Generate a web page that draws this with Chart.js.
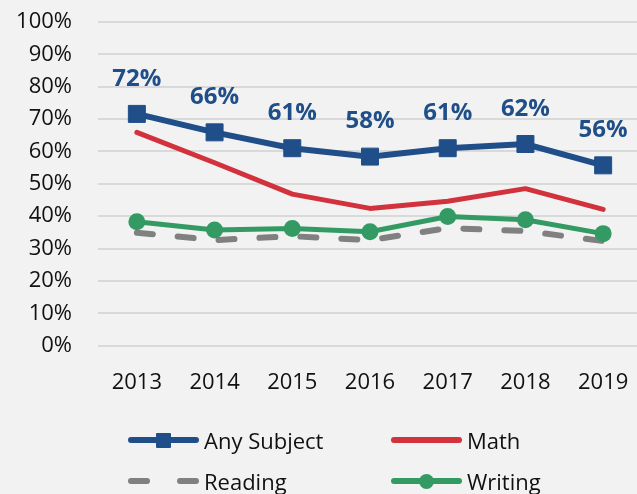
<!DOCTYPE html>
<html>
<head>
<meta charset="utf-8">
<script src="https://cdn.jsdelivr.net/npm/chart.js@4.4.1/dist/chart.umd.min.js"></script>
<style>
  html, body { margin: 0; padding: 0; background: #f2f2f2; overflow: hidden; }
  #wrap { position: relative; width: 642px; height: 494px; }
  #legend { position: absolute; left: 0; top: 0; width: 642px; height: 494px; pointer-events: none;
            font-family: "Open Sans", sans-serif; font-size: 22px; color: #111; }
  .item { position: absolute; height: 26px; line-height: 26px; white-space: nowrap; }
  .icon { position: absolute; left: 0; top: 0; width: 71px; height: 26px; }
  .seg { position: absolute; top: 10px; height: 6px; border-radius: 3px; }
  .mark { position: absolute; }
  .txt { position: absolute; left: 76px; top: 0; }
</style>
</head>
<body>
<div id="wrap">
  <canvas id="c"></canvas>
  <div id="legend"></div>
</div>
<script>
const categories = ['2013', '2014', '2015', '2016', '2017', '2018', '2019'];
const anySubject = [71.6, 65.9, 61.0, 58.4, 61.0, 62.3, 55.7];
const math       = [65.9, 56.5, 46.8, 42.4, 44.6, 48.5, 42.1];
const reading    = [34.9, 32.6, 33.8, 32.6, 36.3, 35.4, 32.3];
const writing    = [38.3, 35.7, 36.2, 35.2, 39.9, 38.9, 34.6];
const anyLabels  = ['72%', '66%', '61%', '58%', '61%', '62%', '56%'];
const yTicks     = [0, 10, 20, 30, 40, 50, 60, 70, 80, 90, 100];
const seriesNames = ['Any Subject', 'Math', 'Reading', 'Writing'];

const BLUE = '#1f4e88', RED = '#d2323c', GRAY = '#808080', GREEN = '#349a63';
const FONT = '"Open Sans", sans-serif';
Chart.defaults.font.family = FONT;
Chart.defaults.color = '#111';

const labelPlugin = {
  id: 'anyLabels',
  afterDatasetsDraw(chart) {
    const meta = chart.getDatasetMeta(0);
    const ctx = chart.ctx;
    ctx.save();
    ctx.font = 'bold 24px ' + FONT;
    ctx.fillStyle = BLUE;
    ctx.textAlign = 'center';
    ctx.textBaseline = 'middle';
    meta.data.forEach((pt, i) => ctx.fillText(anyLabels[i], pt.x, pt.y - 35));
    ctx.restore();
  }
};

const chart = new Chart(document.getElementById('c'), {
  type: 'line',
  data: {
    labels: categories,
    datasets: [
      { label: seriesNames[0], data: anySubject, borderColor: BLUE, backgroundColor: BLUE,
        borderWidth: 6, pointStyle: 'rect', pointRadius: 12, pointBorderWidth: 1,
        pointBackgroundColor: BLUE, pointBorderColor: BLUE, order: 0 },
      { label: seriesNames[1], data: math, borderColor: RED, backgroundColor: RED,
        borderWidth: 5, pointRadius: 0, borderCapStyle: 'round', borderJoinStyle: 'round', order: 1 },
      { label: seriesNames[2], data: reading, borderColor: GRAY, backgroundColor: GRAY,
        borderWidth: 6, pointRadius: 0, borderDash: [16, 25], borderCapStyle: 'round', order: 3 },
      { label: seriesNames[3], data: writing, borderColor: GREEN, backgroundColor: GREEN,
        borderWidth: 5, pointStyle: 'circle', pointRadius: 8.5, pointBorderWidth: 0,
        pointBackgroundColor: GREEN, order: 2 }
    ]
  },
  options: {
    responsive: true,
    maintainAspectRatio: false,
    animation: false,
    layout: { autoPadding: false, padding: { top: 22, left: 16, right: 0, bottom: 74 } },
    elements: { line: { tension: 0 } },
    plugins: { legend: { display: false }, tooltip: { enabled: false } },
    scales: {
      x: {
        offset: true,
        afterFit(scale) { scale.paddingLeft = 0; scale.paddingRight = 0; },
        grid: { display: false, drawTicks: false },
        border: { display: false },
        ticks: { padding: 24, font: { size: 22 }, color: '#111', autoSkip: false, maxRotation: 0 }
      },
      y: {
        min: 0, max: 100,
        afterBuildTicks(scale) { scale.ticks = yTicks.map(v => ({ value: v })); },
        afterFit(scale) { scale.width = 82; scale.paddingTop = 13; scale.paddingBottom = 13; },
        grid: { color: '#d9d9d9', lineWidth: 2, drawTicks: false },
        border: { display: false },
        ticks: { padding: 26, font: { size: 22 }, color: '#111', autoSkip: false,
                 callback: v => v + '%' }
      }
    }
  },
  plugins: [labelPlugin]
});

// HTML legend built from the chart's own datasets
(function buildLegend() {
  const el = document.getElementById('legend');
  const pos = [[128, 427], [391, 427], [128, 468], [391, 468]];
  chart.data.datasets.forEach((ds, i) => {
    const item = document.createElement('div');
    item.className = 'item';
    item.style.left = pos[i][0] + 'px';
    item.style.top = pos[i][1] + 'px';
    const icon = document.createElement('div');
    icon.className = 'icon';
    if (ds.borderDash) {
      [[0, 22], [49, 22]].forEach(([l, w]) => {
        const s = document.createElement('div');
        s.className = 'seg'; s.style.left = l + 'px'; s.style.width = w + 'px';
        s.style.background = ds.borderColor; icon.appendChild(s);
      });
    } else {
      const s = document.createElement('div');
      s.className = 'seg'; s.style.left = '0px'; s.style.width = '71px';
      s.style.background = ds.borderColor; icon.appendChild(s);
      if (ds.pointRadius > 0) {
        const m = document.createElement('div');
        m.className = 'mark';
        m.style.width = '15px'; m.style.height = '15px';
        m.style.left = '28px'; m.style.top = '5.5px';
        m.style.background = ds.borderColor;
        m.style.borderRadius = ds.pointStyle === 'circle' ? '50%' : '1px';
        icon.appendChild(m);
      }
    }
    item.appendChild(icon);
    const t = document.createElement('span');
    t.className = 'txt';
    t.textContent = ds.label;
    item.appendChild(t);
    el.appendChild(item);
  });
})();
</script>
</body>
</html>
